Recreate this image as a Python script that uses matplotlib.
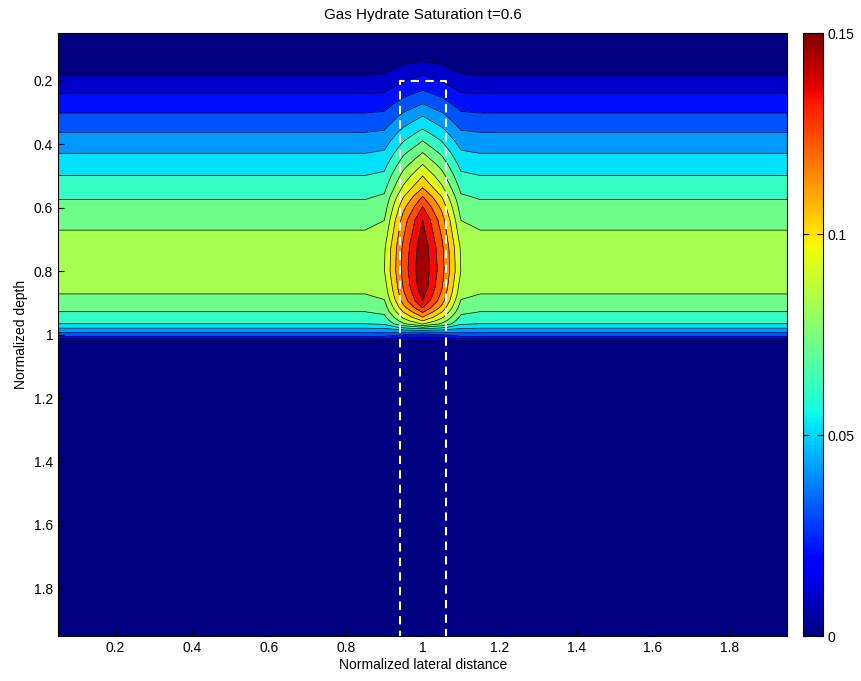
import numpy as np
import matplotlib
matplotlib.use("Agg")
import matplotlib.pyplot as plt
from matplotlib.colors import ListedColormap, BoundaryNorm, Normalize
from matplotlib.ticker import FormatStrFormatter

plt.rcParams['font.family'] = ['Liberation Sans', 'DejaVu Sans']

# profil de saturation loin de l'anomalie (bords du domaine)
depth_bg = [0.05, 0.12, 0.183, 0.241, 0.302, 0.363, 0.429, 0.499, 0.575, 0.671,
            0.73, 0.80, 0.872, 0.928, 0.966, 0.980, 0.994, 1.006, 1.013, 1.02, 1.03, 1.95]
sat_bg = [0.0, 0.004, 0.01, 0.02, 0.03, 0.04, 0.05, 0.06, 0.07, 0.08,
          0.0855, 0.0865, 0.08, 0.07, 0.06, 0.05, 0.04, 0.03, 0.02, 0.01, 0.0, 0.0]

# profil au centre (x = 1)
depth_mid = [0.05, 0.10, 0.141, 0.183, 0.231, 0.273, 0.312, 0.353, 0.39, 0.427,
             0.464, 0.501, 0.538, 0.565, 0.597, 0.639, 0.72, 0.79, 0.85, 0.893,
             0.915, 0.93, 0.945, 0.957, 0.967, 0.977, 0.987, 0.998, 1.008, 1.018,
             1.03, 1.95]
sat_mid = [0.0, 0.005, 0.0101, 0.0201, 0.0301, 0.0401, 0.0501, 0.0601, 0.0701, 0.0801,
           0.0901, 0.1001, 0.1101, 0.1201, 0.1301, 0.1401, 0.147, 0.149, 0.147, 0.1401,
           0.1301, 0.1201, 0.1101, 0.1001, 0.0901, 0.07, 0.05, 0.03, 0.02, 0.01,
           0.0, 0.0]

# poids latéral de l'anomalie
x_mid = [0.85, 0.9, 0.95, 1.0, 1.05, 1.1, 1.15]
w_mid = [0.0, 0.05, 0.6, 1.0, 0.6, 0.05, 0.0]

# rectangle en pointillés
rect_x = [0.94, 0.94, 1.06, 1.06]
rect_y = [1.96, 0.2, 0.2, 1.96]

levels = np.arange(0, 0.1501, 0.01)

# grille
x = np.arange(0.05, 1.951, 0.05)
d = np.unique(np.concatenate([depth_bg, depth_mid]))
bg = np.interp(d, depth_bg, sat_bg)
mid = np.interp(d, depth_mid, sat_mid)
w = np.interp(x, x_mid, w_mid, left=0, right=0)
Z = bg[:, None] + w[None, :] * (mid - bg)[:, None]
X, D = np.meshgrid(x, d)

# couleurs façon matlab : chaque bande prend la couleur du niveau bas
jet = plt.get_cmap('jet')
band_cmap = ListedColormap([jet(l / 0.145) for l in levels[:-1]])
band_norm = BoundaryNorm(levels, band_cmap.N)

fig = plt.figure(figsize=(8.62, 6.81), dpi=100)
ax = fig.add_axes([0.0673, 0.066, 0.846, 0.8855])
ax.contourf(X, D, Z, levels=levels, cmap=band_cmap, norm=band_norm)
ax.contour(X, D, Z, levels=levels[1:-1], colors='k', linewidths=0.5)
ax.plot(rect_x, rect_y, color='white', lw=1.5, dashes=(4, 3))

ax.set_xlim(0.05, 1.95)
ax.set_ylim(1.95, 0.05)
ax.set_xticks(np.arange(0.2, 1.81, 0.2))
ax.set_yticks(np.arange(0.2, 1.81, 0.2))
ax.xaxis.set_major_formatter(FormatStrFormatter('%g'))
ax.yaxis.set_major_formatter(FormatStrFormatter('%g'))
ax.tick_params(direction='in', length=4, labelsize=10)
ax.set_xlabel("Normalized lateral distance", fontsize=10, labelpad=2)
ax.set_ylabel("Normalized depth", fontsize=10, labelpad=4)
ax.set_title("Gas Hydrate Saturation t=0.6", fontsize=11, pad=10)

cax = fig.add_axes([0.9316, 0.066, 0.0232, 0.8855])
sm = plt.cm.ScalarMappable(norm=Normalize(0, 0.15), cmap='jet')
cb = fig.colorbar(sm, cax=cax, ticks=[0, 0.05, 0.1, 0.15])
cb.ax.set_yticklabels(['0', '0.05', '0.1', '0.15'])
cb.ax.tick_params(direction='in', left=True, right=True, length=4, labelsize=10)
cb.outline.set_linewidth(0.8)

fig.savefig("out.png", dpi=100)
